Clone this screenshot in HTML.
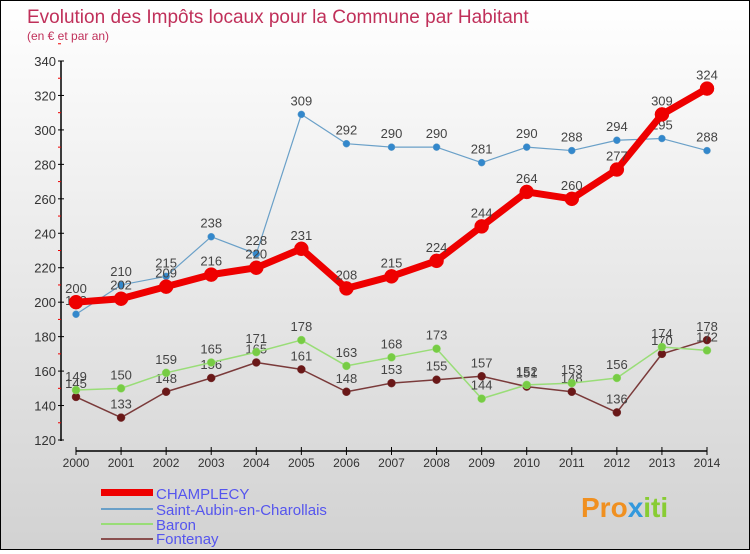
<!DOCTYPE html>
<html><head><meta charset="utf-8"><style>
body{margin:0;width:750px;height:550px;overflow:hidden;font-family:"Liberation Sans",sans-serif}
#wrap{position:relative;width:748px;height:548px;border:1px solid #000;background:linear-gradient(#ffffff,#d2d2d2)}
</style></head><body>
<div id="wrap">
<svg id="chart" width="748" height="548">
<text x="26" y="22" font-size="19" fill="#c0305a">Evolution des Impôts locaux pour la Commune par Habitant</text>
<text x="26" y="39" font-size="12" fill="#c0305a">(en € et par an)</text>
<g id="axes"></g><g id="series"></g>
<g font-size="15" fill="#5555ee">
<rect x="100" y="488" width="52" height="7" fill="#ee0000"/>
<text x="155" y="498">CHAMPLECY</text>
<rect x="100" y="507" width="52" height="2" fill="#6aa0c8"/>
<text x="155" y="514">Saint-Aubin-en-Charollais</text>
<rect x="100" y="522" width="52" height="2" fill="#99dd77"/>
<text x="155" y="529">Baron</text>
<rect x="100" y="537" width="52" height="2" fill="#8a5050"/>
<text x="155" y="543">Fontenay</text>
</g>
<text x="580" y="516" font-size="28" font-weight="bold"><tspan fill="#f09020">Pro</tspan><tspan fill="#3399dd">x</tspan><tspan fill="#88cc33">iti</tspan></text>
</svg></div>
<script>
const years=[2000,2001,2002,2003,2004,2005,2006,2007,2008,2009,2010,2011,2012,2013,2014];
const yTicks=[120,140,160,180,200,220,240,260,280,300,320,340];
const champlecy=[200,202,209,216,220,231,208,215,224,244,264,260,277,309,324];
const saintAubin=[193,210,215,238,228,309,292,290,290,281,290,288,294,295,288];
const baron=[149,150,159,165,171,178,163,168,173,144,152,153,156,174,172];
const fontenay=[145,133,148,156,165,161,148,153,155,157,151,148,136,170,178];
const NS="http://www.w3.org/2000/svg";
function x(i){return 75+i*(631/14);}
function y(v){return 439-(v-120)*(379/220);}
function mk(t,a,p){const e=document.createElementNS(NS,t);for(const k in a)e.setAttribute(k,a[k]);p.appendChild(e);return e;}
const ax=document.getElementById('axes'),sg=document.getElementById('series');
let l=mk('line',{x1:60,y1:y(340),x2:60,y2:440,stroke:'#000','stroke-width':1.5},ax);


yTicks.forEach(v=>{
 mk('line',{x1:57,x2:63,y1:y(v),y2:y(v),stroke:'#000'},ax);
 mk('line',{x1:57,x2:60,y1:y(v+10),y2:y(v+10),stroke:'#e00'},ax);
 const t=mk('text',{x:55,y:y(v)+5,'text-anchor':'end','font-size':13,fill:'#333'},ax);t.textContent=v;
 
 
});
l=mk('line',{x1:75,y1:450,x2:706,y2:450,stroke:'#000','stroke-width':1.5},ax);


years.forEach((yr,i)=>{
 mk('line',{x1:x(i),x2:x(i),y1:446,y2:454,stroke:'#000'},ax);
 const t=mk('text',{x:x(i),y:466,'text-anchor':'middle','font-size':12,fill:'#333'},ax);t.textContent=yr;
 
 
});
function series(d,name,col,w,r,dot){
 const g=mk('g',{},sg);
 
 
 mk('polyline',{points:d.map((v,i)=>x(i)+','+y(v)).join(' '),fill:'none',stroke:col,'stroke-width':w,'stroke-linejoin':'round'},g);
 d.forEach((v,i)=>{
  const c=mk('circle',{cx:x(i),cy:y(v),r:r,fill:dot,stroke:col,'stroke-width':0.5},g);
  
  
  const t=mk('text',{x:x(i),y:y(v)-9,'text-anchor':'middle','font-size':13,fill:'#444'},g);t.textContent=v;
  
  
 });
}
series(fontenay,'fontenay','#7a3a3a',1.5,4,'#6a1818');
series(baron,'baron','#99dd77',1.5,4,'#77cc44');
series(saintAubin,'saint-aubin','#6aa0c8',1.2,3.5,'#3388cc');
series(champlecy,'champlecy','#ee0000',7,7,'#ee0000');
</script></body></html>
